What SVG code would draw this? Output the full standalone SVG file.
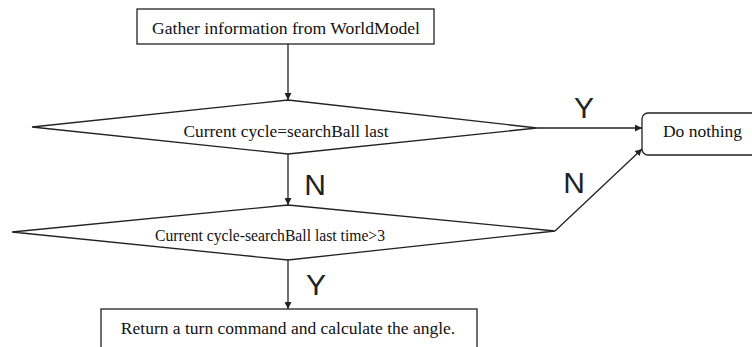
<svg xmlns="http://www.w3.org/2000/svg" width="752" height="347" viewBox="0 0 752 347">
<defs>
<style>
.shape{fill:#fff;stroke:#222;stroke-width:1.3}
.t{font-family:"Liberation Serif","Times New Roman",serif;font-size:17.5px;fill:#111;text-anchor:middle}
.lbl{font-family:"Liberation Sans",Arial,sans-serif;font-size:30px;fill:#222;text-anchor:middle}
.c{fill:none;stroke:#222;stroke-width:1.3}
</style>
<marker id="ah" viewBox="0 0 10 10" refX="10" refY="5" markerWidth="7" markerHeight="7" markerUnits="userSpaceOnUse" orient="auto"><path d="M0,0 L10,5 L0,10 z" fill="#222"/></marker>
</defs>
<rect width="752" height="347" fill="#fff"/>
<g id="connectors">
<line class="c" x1="288" y1="44" x2="288" y2="100" marker-end="url(#ah)"/>
<line class="c" x1="288" y1="154" x2="288" y2="205" marker-end="url(#ah)"/>
<line class="c" x1="288" y1="260" x2="288" y2="309" marker-end="url(#ah)"/>
<line class="c" x1="537" y1="128" x2="642" y2="128" marker-end="url(#ah)"/>
<polyline class="c" points="555,231 642,149" marker-end="url(#ah)"/>
<text class="lbl" x="584" y="118">Y</text>
<text class="lbl" x="574" y="193">N</text>
<text class="lbl" x="315" y="195">N</text>
<text class="lbl" x="316" y="295">Y</text>
</g>
<g id="gather">
<rect class="shape" x="137" y="9" width="297" height="35"/>
<text class="t" x="286" y="34" textLength="268" lengthAdjust="spacingAndGlyphs">Gather information from WorldModel</text>
</g>
<g id="decision1">
<polygon class="shape" points="32,127 288,100 537,128 288,154"/>
<text class="t" x="286" y="137" textLength="205" lengthAdjust="spacingAndGlyphs">Current cycle=searchBall last</text>
</g>
<g id="decision2">
<polygon class="shape" points="12,232 288,205 555,231 288,260"/>
<text class="t" x="270" y="241" textLength="230" lengthAdjust="spacingAndGlyphs">Current cycle-searchBall last time&gt;3</text>
</g>
<g id="donothing">
<rect class="shape" x="642" y="113" width="120" height="42" rx="6"/>
<text class="t" x="702.5" y="137">Do nothing</text>
</g>
<g id="turn">
<rect class="shape" x="101" y="309" width="376" height="50"/>
<text class="t" x="288" y="334">Return a turn command and calculate the angle.</text>
</g>
</svg>
